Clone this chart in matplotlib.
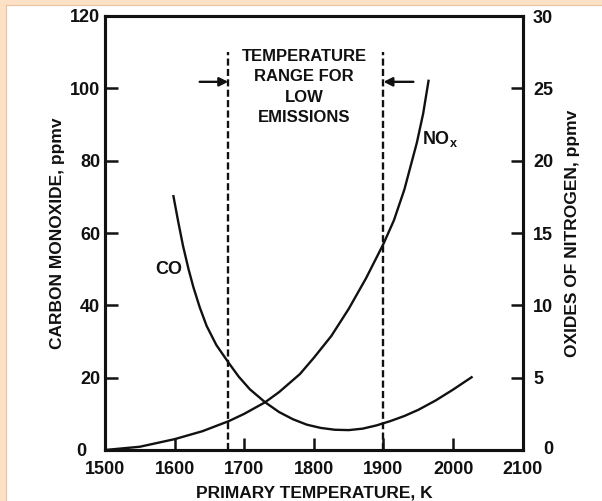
import matplotlib
matplotlib.use("Agg")
import matplotlib.pyplot as plt
from matplotlib.patches import Rectangle
from matplotlib.lines import Line2D

plt.rcParams['font.family'] = ['Liberation Sans', 'DejaVu Sans']
plt.rcParams['font.weight'] = 'bold'
plt.rcParams['mathtext.fontset'] = 'custom'
plt.rcParams['mathtext.rm'] = 'Liberation Sans:bold'
plt.rcParams['mathtext.bf'] = 'Liberation Sans:bold'
plt.rcParams['mathtext.it'] = 'Liberation Sans:bold'

# ---- data ----
co_temp = [1598, 1605, 1612, 1620, 1627, 1636, 1646, 1660, 1678, 1692, 1708,
           1730, 1750, 1770, 1790, 1810, 1830, 1850, 1870, 1890, 1910, 1930,
           1950, 1975, 2000, 2028]
co_ppmv = [70.5, 63.3, 56.5, 50.0, 45.0, 39.5, 34.3, 29.0, 24.0, 20.3, 16.8,
           13.2, 10.5, 8.5, 7.0, 6.1, 5.6, 5.5, 5.9, 6.8, 8.0, 9.4,
           11.1, 13.7, 16.7, 20.3]

nox_temp = [1500, 1550, 1600, 1640, 1678, 1700, 1730, 1750, 1780, 1800, 1825,
            1850, 1875, 1900, 1915, 1930, 1948, 1957, 1965]
nox_ppmv = [0.0, 0.225, 0.75, 1.3, 2.0, 2.5, 3.3, 4.0, 5.25, 6.375, 7.875,
            9.75, 11.875, 14.25, 15.875, 18.0, 21.25, 23.25, 25.6]

range_low, range_high = 1677, 1900

x_ticks = [1500, 1600, 1700, 1800, 1900, 2000, 2100]
x_ticklabels = ['1500', '1600', '1700', '1800', '1900', '2000', '2100']
co_ticks = [0, 20, 40, 60, 80, 100, 120]
co_ticklabels = ['', '20', '40', '60', '80', '100', '120']
nox_ticks = [0, 5, 10, 15, 20, 25, 30]
nox_ticklabels = ['', '5', '10', '15', '20', '25', '30']

INK = '#111111'
FS = 12
TFS = 13
LFS = 12.5

fig = plt.figure(figsize=(6.02, 5.01), dpi=100)
fig.patch.set_facecolor('white')
# peach frame strips (left and top)
fig.patches.append(Rectangle((0, 0), 6/602, 1, transform=fig.transFigure,
                             facecolor='#FCE1C7', edgecolor='none', zorder=0))
fig.patches.append(Rectangle((0, 1-5/501), 1, 5/501, transform=fig.transFigure,
                             facecolor='#FCE1C7', edgecolor='none', zorder=0))
fig.lines.append(Line2D([6/602, 6/602], [0, 1-5/501], transform=fig.transFigure,
                        color='#EBC29C', lw=0.8))
fig.lines.append(Line2D([6/602, 1], [1-5/501, 1-5/501], transform=fig.transFigure,
                        color='#EBC29C', lw=0.8))

ax = fig.add_axes([105/602, 51/501, 417.7/602, 434/501])
ax2 = ax.twinx()
ax.set_zorder(ax2.get_zorder() + 1)
ax.patch.set_visible(False)

ax.set_xlim(1500, 2100)
ax.set_ylim(0, 120)
ax2.set_ylim(0, 30)

# curves
ax.plot(co_temp, co_ppmv, color=INK, lw=1.7, solid_capstyle='butt',
        solid_joinstyle='round')
ax2.plot(nox_temp, nox_ppmv, color=INK, lw=1.7, solid_capstyle='butt',
         solid_joinstyle='round')

# dashed range lines
for xv in (range_low, range_high):
    ax.plot([xv, xv], [0, 110], color=INK, lw=1.7, dashes=(3.0, 1.4))

# arrows
ax.annotate('', xy=(range_low, 101.8), xytext=(1636, 101.8),
            arrowprops=dict(arrowstyle='-|>', color=INK, lw=1.7,
                            mutation_scale=13, shrinkA=0, shrinkB=0))
ax.annotate('', xy=(range_high, 101.8), xytext=(1943, 101.8),
            arrowprops=dict(arrowstyle='-|>', color=INK, lw=1.7,
                            mutation_scale=13, shrinkA=0, shrinkB=0))

ax.text(1786, 110.9, 'TEMPERATURE\nRANGE FOR\nLOW\nEMISSIONS', ha='center',
        va='top', fontsize=FS, fontweight='bold', color=INK, linespacing=1.45)
ax.text(1591, 49.8, 'CO', ha='center', va='center', fontsize=13,
        fontweight='bold', color=INK)
ax.text(1981, 86, r'NO$_\mathrm{x}$', ha='center', va='center', fontsize=13,
        fontweight='bold', color=INK)

# ticks
ax.set_xticks(x_ticks)
ax.set_xticklabels(x_ticklabels)
ax.set_yticks(co_ticks)
ax.set_yticklabels(co_ticklabels)
ax2.set_yticks(nox_ticks)
ax2.set_yticklabels(nox_ticklabels)

ax.tick_params(axis='x', direction='in', length=9, width=1.8, pad=8,
               labelsize=TFS, colors=INK, top=False)
ax.tick_params(axis='y', direction='in', length=9, width=1.8, pad=3.5,
               labelsize=TFS, colors=INK, right=False)
ax2.tick_params(axis='y', direction='in', length=9, width=1.8, pad=7.5,
                labelsize=TFS, colors=INK)

# zero labels, offset as in the original
ax.annotate('0', xy=(1500, 0), xytext=(-24, -2), textcoords='offset pixels',
            ha='center', va='center', fontsize=TFS, fontweight='bold', color=INK)
ax.annotate('0', xy=(2100, 0), xytext=(26, 0), textcoords='offset pixels',
            ha='center', va='center', fontsize=TFS, fontweight='bold', color=INK)

for a in (ax, ax2):
    for s in a.spines.values():
        s.set_linewidth(2.2)
        s.set_color(INK)

ax.set_xlabel('PRIMARY TEMPERATURE, K', fontsize=LFS, fontweight='bold',
              color=INK, labelpad=5)
ax.set_ylabel('CARBON MONOXIDE, ppmv', fontsize=LFS, fontweight='bold',
              color=INK)
ax2.set_ylabel('OXIDES OF NITROGEN, ppmv', fontsize=LFS, fontweight='bold',
               color=INK, rotation=90)
ax.yaxis.set_label_coords(-0.096, 0.5)
ax2.yaxis.set_label_coords(1.101, 0.5)

fig.savefig('out.png', dpi=100)
